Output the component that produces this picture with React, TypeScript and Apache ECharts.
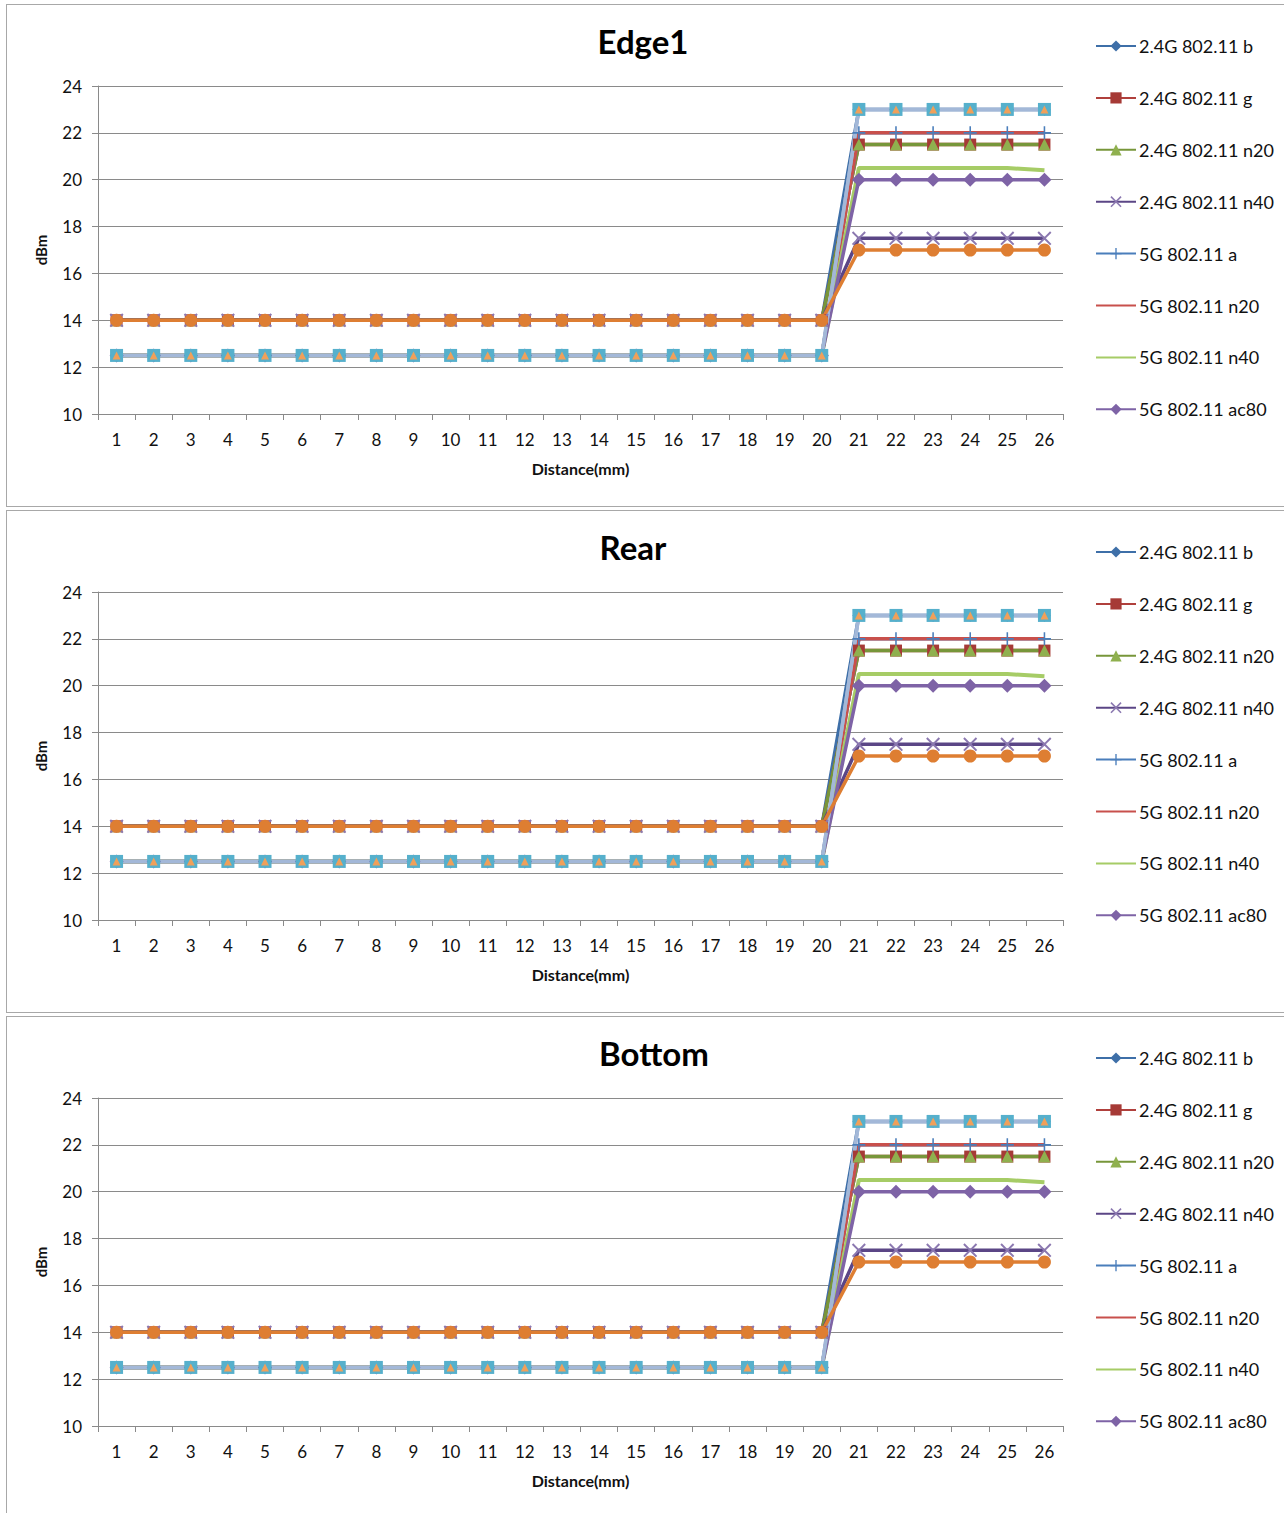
import React, { useEffect, useRef } from "react";
import * as echarts from "echarts";

const categories = ["1","2","3","4","5","6","7","8","9","10","11","12","13","14","15","16","17","18","19","20","21","22","23","24","25","26"];
const yTicks = { min: 10, max: 24, interval: 2 };

const s24b = [14,14,14,14,14,14,14,14,14,14,14,14,14,14,14,14,14,14,14,14,23,23,23,23,23,23];
const s24g = [14,14,14,14,14,14,14,14,14,14,14,14,14,14,14,14,14,14,14,14,21.5,21.5,21.5,21.5,21.5,21.5];
const s24n20 = [14,14,14,14,14,14,14,14,14,14,14,14,14,14,14,14,14,14,14,14,21.5,21.5,21.5,21.5,21.5,21.5];
const s24n40 = [14,14,14,14,14,14,14,14,14,14,14,14,14,14,14,14,14,14,14,14,17.5,17.5,17.5,17.5,17.5,17.5];
const s5a = [12.5,12.5,12.5,12.5,12.5,12.5,12.5,12.5,12.5,12.5,12.5,12.5,12.5,12.5,12.5,12.5,12.5,12.5,12.5,12.5,22,22,22,22,22,22];
const s5n20 = [12.5,12.5,12.5,12.5,12.5,12.5,12.5,12.5,12.5,12.5,12.5,12.5,12.5,12.5,12.5,12.5,12.5,12.5,12.5,12.5,22,22,22,22,22,22];
const s5n40 = [12.5,12.5,12.5,12.5,12.5,12.5,12.5,12.5,12.5,12.5,12.5,12.5,12.5,12.5,12.5,12.5,12.5,12.5,12.5,12.5,20.5,20.5,20.5,20.5,20.5,20.4];
const s5ac80 = [12.5,12.5,12.5,12.5,12.5,12.5,12.5,12.5,12.5,12.5,12.5,12.5,12.5,12.5,12.5,12.5,12.5,12.5,12.5,12.5,20,20,20,20,20,20];
const sExtra1 = [12.5,12.5,12.5,12.5,12.5,12.5,12.5,12.5,12.5,12.5,12.5,12.5,12.5,12.5,12.5,12.5,12.5,12.5,12.5,12.5,23,23,23,23,23,23];
const sExtra2 = [12.5,12.5,12.5,12.5,12.5,12.5,12.5,12.5,12.5,12.5,12.5,12.5,12.5,12.5,12.5,12.5,12.5,12.5,12.5,12.5,23,23,23,23,23,23];
const sExtra3 = [14,14,14,14,14,14,14,14,14,14,14,14,14,14,14,14,14,14,14,14,17,17,17,17,17,17];

const legendNames = ["2.4G 802.11 b","2.4G 802.11 g","2.4G 802.11 n20","2.4G 802.11 n40","5G 802.11 a","5G 802.11 n20","5G 802.11 n40","5G 802.11 ac80"];
const noMarkerNames = ["5G 802.11 n20", "5G 802.11 n40"];

const panels = [
  { title: "Edge1", titleX: 636, top: 4, height: 501 },
  { title: "Rear", titleX: 626, top: 510, height: 501 },
  { title: "Bottom", titleX: 647, top: 1016, height: 501 },
];

const FONT = "Lato, 'Open Sans', sans-serif";
const X_SYM = "path://M0,1L1,0L5,4L9,0L10,1L6,5L10,9L9,10L5,6L1,10L0,9L4,5Z";
const PLUS_SYM = "path://M4.4,0H5.6V4.4H10V5.6H5.6V10H4.4V5.6H0V4.4H4.4Z";

function line(name: string, data: number[], lineColor: string, symbol: string, symColor: string, symbolSize: number, width = 3.5) {
  return {
    name,
    type: "line",
    data,
    symbol,
    symbolSize,
    showSymbol: symbol !== "none",
    lineStyle: { color: lineColor, width },
    itemStyle: { color: symColor },
    emphasis: { disabled: true },
  };
}

function buildOption(title: string, titleX: number) {
  return {
    animation: false,
    backgroundColor: "#ffffff",
    textStyle: { fontFamily: FONT },
    graphic: [
      {
        type: "text",
        x: titleX,
        y: 36,
        style: { text: title, font: `bold 33px ${FONT}`, fill: "#000", textAlign: "center", textVerticalAlign: "middle" },
      },
    ],
    legend: {
      data: legendNames.map((n) =>
        noMarkerNames.includes(n) ? { name: n, itemStyle: { opacity: 0 } } : { name: n }
      ),
      orient: "vertical",
      left: 1083,
      top: 27,
      itemWidth: 40,
      itemHeight: 14,
      itemGap: 33.9,
      textStyle: { fontFamily: FONT, fontSize: 18, color: "#111", padding: [0, 0, 0, -2] },
      selectedMode: false,
    },
    grid: { left: 91, top: 81, width: 965, height: 328 },
    xAxis: {
      type: "category",
      data: categories,
      boundaryGap: true,
      axisLine: { lineStyle: { color: "#8a8a8a", width: 1 } },
      axisTick: { show: true, length: 6, lineStyle: { color: "#8a8a8a" } },
      axisLabel: { color: "#111", fontSize: 17, fontFamily: FONT, margin: 17, interval: 0 },
      name: "Distance(mm)",
      nameLocation: "middle",
      nameGap: 46,
      nameTextStyle: { fontSize: 16, fontWeight: "bold", color: "#111", fontFamily: FONT },
    },
    yAxis: {
      type: "value",
      min: yTicks.min,
      max: yTicks.max,
      interval: yTicks.interval,
      axisLine: { show: true, lineStyle: { color: "#8a8a8a", width: 1 } },
      axisTick: { show: true, length: 6, inside: false, lineStyle: { color: "#8a8a8a" } },
      splitLine: { show: true, lineStyle: { color: "#8a8a8a", width: 1 } },
      axisLabel: { color: "#111", fontSize: 17, fontFamily: FONT, margin: 16 },
      name: "dBm",
      nameLocation: "middle",
      nameRotate: 90,
      nameGap: 50,
      nameTextStyle: { fontSize: 15, fontWeight: "bold", color: "#111", fontFamily: FONT },
    },
    series: [
      line("2.4G 802.11 b", s24b, "#3E6FA8", "diamond", "#3E6FA8", 13),
      line("2.4G 802.11 g", s24g, "#B0403C", "rect", "#A63A36", 12),
      line("2.4G 802.11 n20", s24n20, "#77963A", "triangle", "#8FB04E", 12),
      line("2.4G 802.11 n40", s24n40, "#5B4686", X_SYM, "#8B78B0", 14),
      line("5G 802.11 a", s5a, "#4A7EBB", PLUS_SYM, "#4A7EBB", 13),
      line("5G 802.11 n20", s5n20, "#C8504C", "none", "#C8504C", 0),
      line("5G 802.11 n40", s5n40, "#A6CC66", "none", "#A6CC66", 0, 4),
      line("5G 802.11 ac80", s5ac80, "#7E63A6", "diamond", "#7E63A6", 14),
      line("Series 9", sExtra1, "#A3B8D8", "rect", "#56B0CC", 13),
      line("Series 10", sExtra2, "#A3B8D8", "triangle", "#F0A05A", 8),
      line("Series 11", sExtra3, "#DE7E32", "circle", "#DE7E32", 13),
    ],
  };
}

function Panel({ title, titleX, top, height }: { title: string; titleX: number; top: number; height: number }) {
  const ref = useRef<HTMLDivElement | null>(null);
  useEffect(() => {
    if (!ref.current) return;
    const chart = echarts.init(ref.current, undefined, { renderer: "svg" });
    chart.setOption(buildOption(title, titleX) as any);
    return () => chart.dispose();
  }, [title, titleX]);
  return (
    <div
      style={{
        position: "absolute",
        left: 6,
        top,
        width: 1280,
        height,
        border: "1px solid #a8a8a8",
        background: "#fff",
      }}
    >
      <div ref={ref} style={{ width: 1280, height }} />
    </div>
  );
}

export default function App() {
  useEffect(() => {
    document.body.style.margin = "0";
  }, []);
  return (
    <div style={{ position: "relative", width: 1284, height: 1513, overflow: "hidden", background: "#fff" }}>
      {panels.map((p) => (
        <Panel key={p.title} {...p} />
      ))}
    </div>
  );
}
